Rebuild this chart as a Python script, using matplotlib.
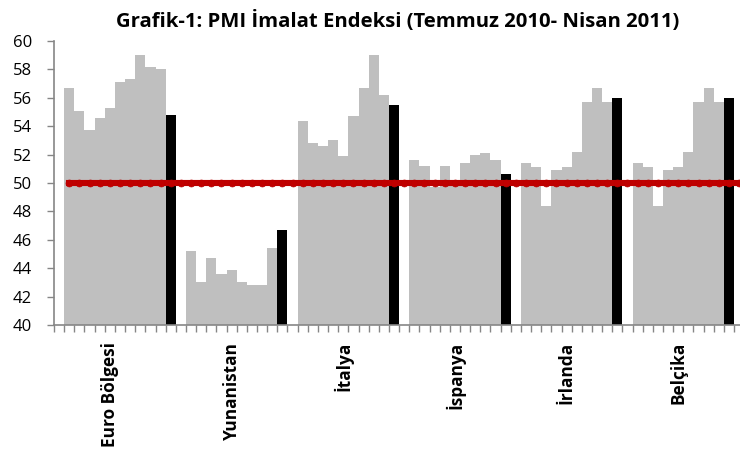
import matplotlib
matplotlib.use("Agg")
import matplotlib.pyplot as plt
import numpy as np

plt.rcParams['font.family'] = ['Open Sans', 'DejaVu Sans']

# ---- data ----
countries = ["Euro Bölgesi", "Yunanistan", "İtalya", "İspanya", "İrlanda", "Belçika"]
euro_gray = [56.7, 55.1, 53.7, 54.6, 55.3, 57.1, 57.3, 59.0, 58.2, 58.0]
euro_black = 54.8
greece_gray = [45.2, 43.0, 44.7, 43.6, 43.9, 43.0, 42.8, 42.8, 45.4]
greece_black = 46.7
italy_gray = [54.4, 52.8, 52.6, 53.0, 51.9, 54.75, 56.7, 59.0, 56.2]
italy_black = 55.5
spain_gray = [51.6, 51.2, 49.7, 51.2, 50.1, 51.4, 52.0, 52.1, 51.6]
spain_black = 50.6
ireland_gray = [51.4, 51.1, 48.4, 50.9, 51.15, 52.2, 55.7, 56.7, 55.7]
ireland_black = 56.0
belgium_gray = [51.4, 51.1, 48.4, 50.9, 51.15, 52.2, 55.7, 56.7, 55.7]
belgium_black = 56.0
threshold = 50

gray_series = [euro_gray, greece_gray, italy_gray, spain_gray, ireland_gray, belgium_gray]
black_series = [euro_black, greece_black, italy_black, spain_black, ireland_black, belgium_black]

# ---- build category rows (blank row before each group, like the sheet) ----
gray_vals, black_vals, label_pos = [], [], []
for g, b in zip(gray_series, black_series):
    gray_vals.append(np.nan); black_vals.append(np.nan)
    label_pos.append(len(gray_vals) + 4)
    gray_vals.extend(g); black_vals.extend([np.nan] * len(g))
    gray_vals.append(np.nan); black_vals.append(b)
n = len(gray_vals) + 1  # one more row visible at right
x = np.arange(len(gray_vals))

fig = plt.figure(figsize=(7.4, 4.51), dpi=100)
ax = fig.add_axes([54/740, 1 - 325/451, (n * 10.15)/740, (325 - 41)/451])

ax.bar(x, gray_vals, width=1.0, color='#BFBFBF', zorder=2)
ax.bar(x, black_vals, width=1.0, color='#000000', zorder=2)

lx = np.arange(1, n)
ax.plot(lx, [threshold] * len(lx), color='#C00000', lw=4.4, marker='o', ms=5.0,
        mec='#BA0000', mew=0.5, mfc='#C00000', zorder=3)

ax.set_ylim(40, 60)
ax.set_yticks(np.arange(40, 61, 2))
ax.set_xlim(-0.5, n - 0.5)

ax.set_xticks(label_pos)
ax.set_xticklabels(countries, rotation=90, fontweight='bold', fontsize=12.4, va='top', ha='center')
ax.set_xticks(np.arange(-0.5, n, 1.0), minor=True)
ax.tick_params(axis='x', which='major', length=0, pad=12)
ax.tick_params(axis='x', which='minor', length=5, color='#868686', width=1)
ax.tick_params(axis='y', length=5, color='#868686', width=1, labelsize=12, pad=11)

for s in ['top', 'right']:
    ax.spines[s].set_visible(False)
for s in ['left', 'bottom']:
    ax.spines[s].set_color('#868686')
    ax.spines[s].set_linewidth(1.2)

fig.text(398/740, 1 - 21/451, "Grafik-1: PMI İmalat Endeksi (Temmuz 2010- Nisan 2011)",
         ha='center', va='center', fontweight='bold', fontsize=14.6)

fig.savefig("out.png", dpi=100)
